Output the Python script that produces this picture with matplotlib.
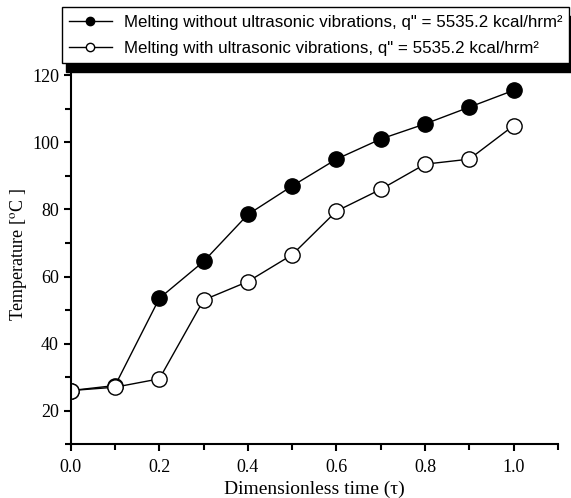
import matplotlib
matplotlib.use("Agg")
import matplotlib.pyplot as plt
from matplotlib.ticker import MultipleLocator

# data
tau = [0.0, 0.1, 0.2, 0.3, 0.4, 0.5, 0.6, 0.7, 0.8, 0.9, 1.0]
temp_without = [26.0, 27.5, 53.5, 64.5, 78.5, 87.0, 95.0, 101.0, 105.5, 110.5, 115.5]
temp_with = [26.0, 27.0, 29.5, 53.0, 58.5, 66.5, 79.5, 86.0, 93.5, 95.0, 105.0]

label_without = 'Melting without ultrasonic vibrations, q" = 5535.2 kcal/hrm²'
label_with = 'Melting with ultrasonic vibrations, q" = 5535.2 kcal/hrm²'

plt.rcParams['font.family'] = 'Liberation Serif'
plt.rcParams['mathtext.fontset'] = 'stix'

fig = plt.figure(figsize=(5.71, 4.98), dpi=100)
ax = fig.add_axes([0.124, 0.108, 0.853, 0.761])

ax.plot(tau, temp_without, '-o', color='black', lw=1.0, ms=11,
        mfc='black', mec='black', mew=1.0, label=label_without)
ax.plot(tau, temp_with, '-o', color='black', lw=1.0, ms=11,
        mfc='white', mec='black', mew=1.0, label=label_with)

ax.set_xlim(0, 1.1)
ax.set_ylim(10, 123)
ax.xaxis.set_major_locator(MultipleLocator(0.2))
ax.xaxis.set_minor_locator(MultipleLocator(0.1))
ax.yaxis.set_major_locator(MultipleLocator(20))
ax.yaxis.set_minor_locator(MultipleLocator(10))
ax.set_yticks([20, 40, 60, 80, 100, 120])
ax.xaxis.set_major_formatter(plt.FuncFormatter(lambda v, p: f'{v:.1f}'))

for s in ['top', 'right']:
    ax.spines[s].set_visible(False)
for s in ['left', 'bottom']:
    ax.spines[s].set_linewidth(1.5)
ax.tick_params(which='major', direction='out', length=5, width=1.5, labelsize=13)
ax.tick_params(axis='x', which='major', pad=6)
ax.tick_params(which='minor', direction='out', length=4, width=1.5)

ax.set_xlabel('Dimensionless time (τ)', fontsize=14, labelpad=3)
ax.set_ylabel('Temperature [$^\\mathrm{o}$C ]', fontsize=13, labelpad=2)

# legend box runs to the right edge of the picture, shadow cut off
leg = fig.legend(loc='upper left', bbox_to_anchor=(0.108, 0.5, 0.889, 0.485),
                 mode='expand',
                 prop={'family': 'Liberation Sans', 'size': 12.2},
                 frameon=True, fancybox=False,
                 shadow={'color': 'black', 'alpha': 1, 'ox': 3, 'oy': -6},
                 edgecolor='black', framealpha=1, handlelength=2.5,
                 handletextpad=0.75, borderpad=0.45, labelspacing=0.62,
                 borderaxespad=0)
leg.get_frame().set_linewidth(1.0)
for h in leg.legend_handles:
    h.set_markersize(6)

fig.savefig('out.png', dpi=100)
